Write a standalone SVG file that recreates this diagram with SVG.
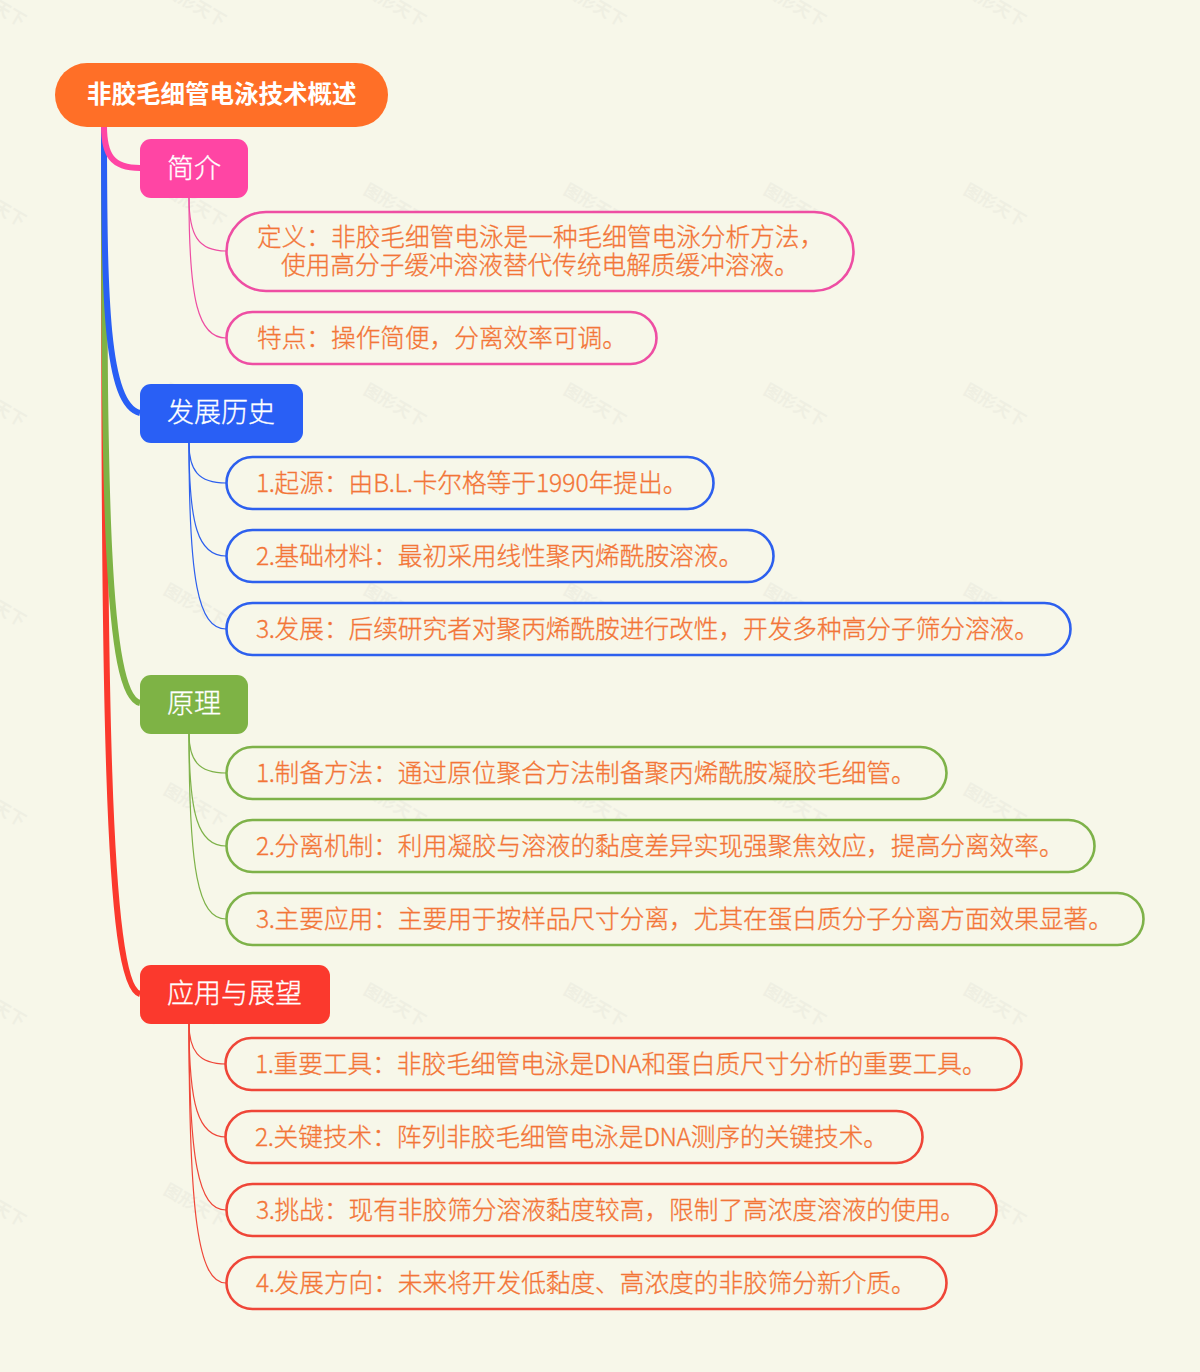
<svg xmlns="http://www.w3.org/2000/svg" width="1200" height="1372" viewBox="0 0 1200 1372">
<style>
text{font-family:"Noto Sans CJK SC","Noto Sans",sans-serif}
.leaf{fill:#f7f7e9;stroke-width:2.6}
.lt{fill:#f37537;stroke:#f37537;stroke-width:.3px;font-size:24.67px;font-weight:300}
.bt{fill:#fff;stroke:#fff;stroke-width:.3px;font-size:27px;font-weight:300}
.wm{fill:#d8d8d0;opacity:.24;font-size:17px;font-weight:700}
.n{letter-spacing:-.4px}
.c{fill:none}
.c1{stroke-width:6}
.c2{stroke-width:1.2}
.pink{stroke:#ee4ea3}.blue{stroke:#2d60ee}.green{stroke:#7eb249}.red{stroke:#ef4638}
.red1{stroke:#fb392d}.blue1{stroke:#295ff5}.green1{stroke:#7eb345}.pink1{stroke:#ff45a4}
</style>
<rect width="1200" height="1372" fill="#f7f7e9"/>
<g id="watermark">
<text class="wm" transform="rotate(30 -5 5)" x="-39" y="11">图形天下</text>
<text class="wm" transform="rotate(30 195 5)" x="161" y="11">图形天下</text>
<text class="wm" transform="rotate(30 395 5)" x="361" y="11">图形天下</text>
<text class="wm" transform="rotate(30 595 5)" x="561" y="11">图形天下</text>
<text class="wm" transform="rotate(30 795 5)" x="761" y="11">图形天下</text>
<text class="wm" transform="rotate(30 995 5)" x="961" y="11">图形天下</text>
<text class="wm" transform="rotate(30 -5 205)" x="-39" y="211">图形天下</text>
<text class="wm" transform="rotate(30 195 205)" x="161" y="211">图形天下</text>
<text class="wm" transform="rotate(30 395 205)" x="361" y="211">图形天下</text>
<text class="wm" transform="rotate(30 595 205)" x="561" y="211">图形天下</text>
<text class="wm" transform="rotate(30 795 205)" x="761" y="211">图形天下</text>
<text class="wm" transform="rotate(30 995 205)" x="961" y="211">图形天下</text>
<text class="wm" transform="rotate(30 -5 405)" x="-39" y="411">图形天下</text>
<text class="wm" transform="rotate(30 195 405)" x="161" y="411">图形天下</text>
<text class="wm" transform="rotate(30 395 405)" x="361" y="411">图形天下</text>
<text class="wm" transform="rotate(30 595 405)" x="561" y="411">图形天下</text>
<text class="wm" transform="rotate(30 795 405)" x="761" y="411">图形天下</text>
<text class="wm" transform="rotate(30 995 405)" x="961" y="411">图形天下</text>
<text class="wm" transform="rotate(30 -5 605)" x="-39" y="611">图形天下</text>
<text class="wm" transform="rotate(30 195 605)" x="161" y="611">图形天下</text>
<text class="wm" transform="rotate(30 395 605)" x="361" y="611">图形天下</text>
<text class="wm" transform="rotate(30 595 605)" x="561" y="611">图形天下</text>
<text class="wm" transform="rotate(30 795 605)" x="761" y="611">图形天下</text>
<text class="wm" transform="rotate(30 995 605)" x="961" y="611">图形天下</text>
<text class="wm" transform="rotate(30 -5 805)" x="-39" y="811">图形天下</text>
<text class="wm" transform="rotate(30 195 805)" x="161" y="811">图形天下</text>
<text class="wm" transform="rotate(30 395 805)" x="361" y="811">图形天下</text>
<text class="wm" transform="rotate(30 595 805)" x="561" y="811">图形天下</text>
<text class="wm" transform="rotate(30 795 805)" x="761" y="811">图形天下</text>
<text class="wm" transform="rotate(30 995 805)" x="961" y="811">图形天下</text>
<text class="wm" transform="rotate(30 -5 1005)" x="-39" y="1011">图形天下</text>
<text class="wm" transform="rotate(30 195 1005)" x="161" y="1011">图形天下</text>
<text class="wm" transform="rotate(30 395 1005)" x="361" y="1011">图形天下</text>
<text class="wm" transform="rotate(30 595 1005)" x="561" y="1011">图形天下</text>
<text class="wm" transform="rotate(30 795 1005)" x="761" y="1011">图形天下</text>
<text class="wm" transform="rotate(30 995 1005)" x="961" y="1011">图形天下</text>
<text class="wm" transform="rotate(30 -5 1205)" x="-39" y="1211">图形天下</text>
<text class="wm" transform="rotate(30 195 1205)" x="161" y="1211">图形天下</text>
<text class="wm" transform="rotate(30 395 1205)" x="361" y="1211">图形天下</text>
<text class="wm" transform="rotate(30 595 1205)" x="561" y="1211">图形天下</text>
<text class="wm" transform="rotate(30 795 1205)" x="761" y="1211">图形天下</text>
<text class="wm" transform="rotate(30 995 1205)" x="961" y="1211">图形天下</text>
</g>
<g id="connectors" class="c">
<path class="c c1 red1" d="M104 126C104 700 106 985 140 994"/>
<path class="c c1 green1" d="M104 126C104 500 106 695 140 703"/>
<path class="c c1 blue1" d="M104 126C104 300 106 405 140 413"/>
<path class="c c1 pink1" d="M104 126C104 155 112 168 140 168"/>
<path class="c c2 pink" d="M189 198C189 235 198 251 226 251"/>
<path class="c c2 pink" d="M189 198C189 300 198 338 226 338"/>
<path class="c c2 blue" d="M189 443C189 470 198 483 226 483"/>
<path class="c c2 blue" d="M189 443C189 525 198 556 226 556"/>
<path class="c c2 blue" d="M189 443C189 580 198 629 226 629"/>
<path class="c c2 green" d="M189 733C189 760 198 773 226 773"/>
<path class="c c2 green" d="M189 733C189 815 198 846 226 846"/>
<path class="c c2 green" d="M189 733C189 870 198 919 226 919"/>
<path class="c c2 red" d="M189 1023C189 1050 198 1064 226 1064"/>
<path class="c c2 red" d="M189 1023C189 1105 198 1137 226 1137"/>
<path class="c c2 red" d="M189 1023C189 1160 198 1210 226 1210"/>
<path class="c c2 red" d="M189 1023C189 1215 198 1283 226 1283"/>
</g>
<g id="root">
<rect x="55" y="63" width="333" height="64" rx="32" fill="#ff6f27"/>
<text x="87" y="103" fill="#fff" font-size="24.5" font-weight="700">非胶毛细管电泳技术概述</text>
</g>
<g id="b1"><rect x="140" y="139" width="108" height="59" rx="11" fill="#ff45a4"/><text class="bt" x="167" y="178">简介</text></g>
<g id="n11"><rect class="leaf pink" x="226.500" y="212" width="627" height="79" rx="39.500"/><text class="lt" x="257" y="246">定义&#xFF1A;非胶毛细管电泳是一种毛细管电泳分析方法&#xFF0C;</text><text class="lt" x="281" y="274">使用高分子缓冲溶液替代传统电解质缓冲溶液。</text></g>
<g id="n12"><rect class="leaf pink" x="226.500" y="312" width="430" height="52" rx="26"/><text class="lt" x="257" y="347">特点&#xFF1A;操作简便&#xFF0C;分离效率可调。</text></g>
<g id="b2"><rect x="140" y="384" width="163" height="59" rx="11" fill="#295ff5"/><text class="bt" x="167" y="422">发展历史</text></g>
<g id="n21"><rect class="leaf blue" x="226.500" y="457" width="487" height="52" rx="26"/><text class="lt" x="256" y="492"><tspan class="n">1.</tspan>起源&#xFF1A;由<tspan class="n">B.L.</tspan>卡尔格等于1990年提出。</text></g>
<g id="n22"><rect class="leaf blue" x="226.500" y="530" width="547" height="52" rx="26"/><text class="lt" x="256" y="565"><tspan class="n">2.</tspan>基础材料&#xFF1A;最初采用线性聚丙烯酰胺溶液。</text></g>
<g id="n23"><rect class="leaf blue" x="226.500" y="603" width="844" height="52" rx="26"/><text class="lt" x="256" y="638"><tspan class="n">3.</tspan>发展&#xFF1A;后续研究者对聚丙烯酰胺进行改性&#xFF0C;开发多种高分子筛分溶液。</text></g>
<g id="b3"><rect x="140" y="675" width="108" height="59" rx="11" fill="#7eb345"/><text class="bt" x="167" y="713">原理</text></g>
<g id="n31"><rect class="leaf green" x="226.500" y="747" width="720" height="52" rx="26"/><text class="lt" x="256" y="782"><tspan class="n">1.</tspan>制备方法&#xFF1A;通过原位聚合方法制备聚丙烯酰胺凝胶毛细管。</text></g>
<g id="n32"><rect class="leaf green" x="226.500" y="820" width="868" height="52" rx="26"/><text class="lt" x="256" y="855"><tspan class="n">2.</tspan>分离机制&#xFF1A;利用凝胶与溶液的黏度差异实现强聚焦效应&#xFF0C;提高分离效率。</text></g>
<g id="n33"><rect class="leaf green" x="226.500" y="893" width="917" height="52" rx="26"/><text class="lt" x="256" y="928"><tspan class="n">3.</tspan>主要应用&#xFF1A;主要用于按样品尺寸分离&#xFF0C;尤其在蛋白质分子分离方面效果显著。</text></g>
<g id="b4"><rect x="140" y="965" width="190" height="59" rx="11" fill="#fb392d"/><text class="bt" x="167" y="1003">应用与展望</text></g>
<g id="n41"><rect class="leaf red" x="225.500" y="1038" width="796" height="52" rx="26"/><text class="lt" x="255" y="1073"><tspan class="n">1.</tspan>重要工具&#xFF1A;非胶毛细管电泳是<tspan class="n">DNA</tspan>和蛋白质尺寸分析的重要工具。</text></g>
<g id="n42"><rect class="leaf red" x="225.500" y="1111" width="697" height="52" rx="26"/><text class="lt" x="255" y="1146"><tspan class="n">2.</tspan>关键技术&#xFF1A;阵列非胶毛细管电泳是<tspan class="n">DNA</tspan>测序的关键技术。</text></g>
<g id="n43"><rect class="leaf red" x="226.500" y="1184" width="770" height="52" rx="26"/><text class="lt" x="256" y="1219"><tspan class="n">3.</tspan>挑战&#xFF1A;现有非胶筛分溶液黏度较高&#xFF0C;限制了高浓度溶液的使用。</text></g>
<g id="n44"><rect class="leaf red" x="226.500" y="1257" width="720" height="52" rx="26"/><text class="lt" x="256" y="1292"><tspan class="n">4.</tspan>发展方向&#xFF1A;未来将开发低黏度、高浓度的非胶筛分新介质。</text></g>
</svg>
